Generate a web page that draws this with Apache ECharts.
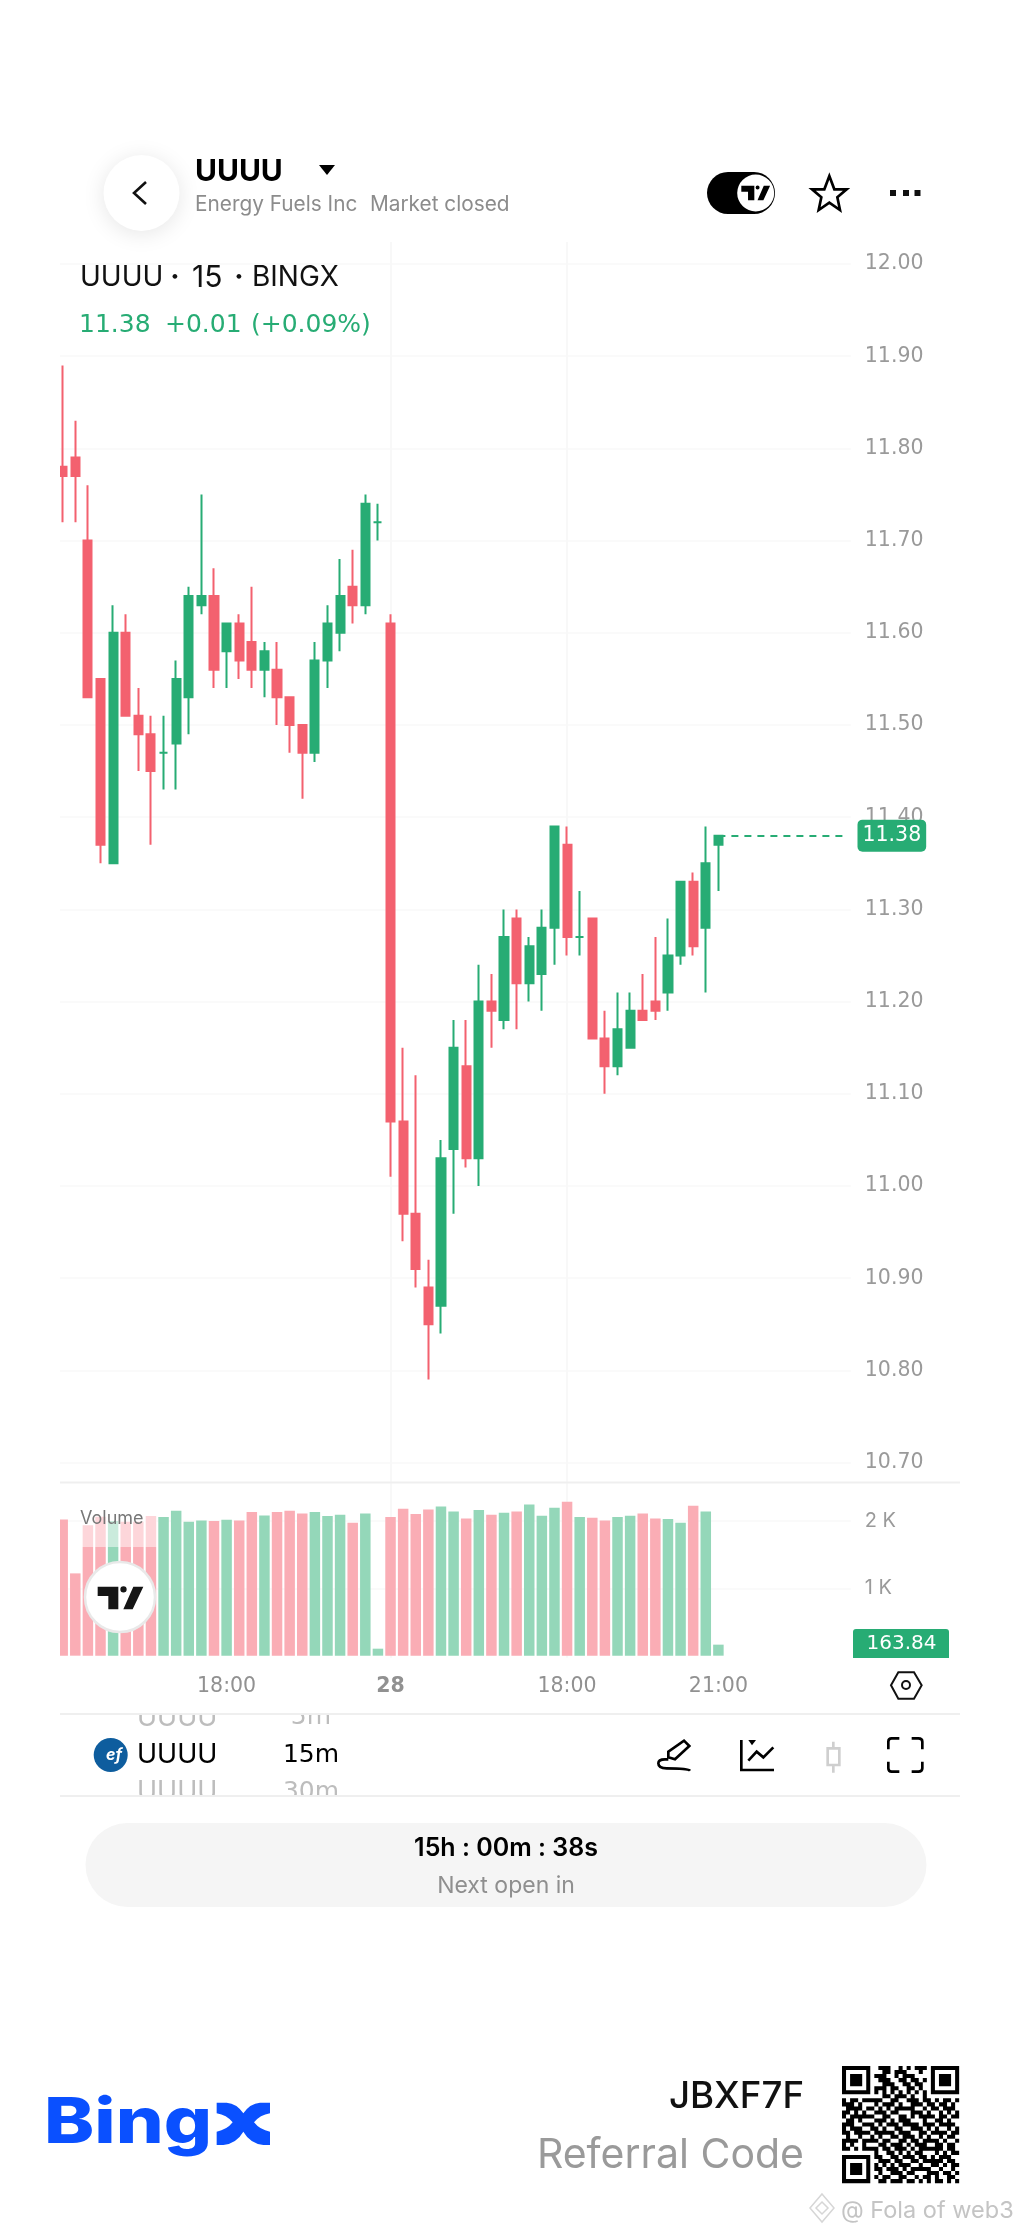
<!DOCTYPE html>
<html><head><meta charset="utf-8">
<style>html,body{margin:0;padding:0;background:#fff}#c{width:1020px;height:2235px}</style>
<script src="https://cdn.jsdelivr.net/npm/echarts@6/dist/echarts.min.js"></script>
</head><body><div id="c"></div>
<script>
// open, close, low, high
const opens  = [11.78,11.79,11.70,11.55,11.35,11.60,11.51,11.49,11.47,11.48,11.53,11.63,11.64,11.58,11.61,11.59,11.56,11.56,11.53,11.50,11.47,11.57,11.60,11.65,11.63,11.72,11.61,11.07,10.97,10.89,10.87,11.04,11.13,11.03,11.20,11.18,11.29,11.22,11.23,11.28,11.37,11.27,11.29,11.16,11.13,11.15,11.19,11.20,11.21,11.25,11.33,11.28,11.37];
const closes = [11.77,11.77,11.53,11.37,11.60,11.51,11.49,11.45,11.47,11.55,11.64,11.64,11.56,11.61,11.57,11.56,11.58,11.53,11.50,11.47,11.57,11.61,11.64,11.63,11.74,11.72,11.07,10.97,10.91,10.85,11.03,11.15,11.03,11.20,11.19,11.27,11.22,11.26,11.28,11.39,11.27,11.27,11.16,11.13,11.17,11.19,11.18,11.19,11.25,11.33,11.26,11.35,11.38];
const lows   = [11.72,11.72,11.53,11.35,11.35,11.51,11.45,11.37,11.43,11.43,11.49,11.62,11.54,11.54,11.55,11.54,11.53,11.50,11.47,11.42,11.46,11.54,11.58,11.61,11.62,11.70,11.01,10.94,10.89,10.79,10.84,10.97,11.02,11.00,11.15,11.17,11.17,11.20,11.19,11.24,11.25,11.25,11.16,11.10,11.12,11.15,11.18,11.18,11.19,11.24,11.25,11.21,11.32];
const highs  = [11.89,11.83,11.76,11.55,11.63,11.62,11.54,11.51,11.51,11.57,11.65,11.75,11.67,11.61,11.62,11.65,11.59,11.59,11.53,11.50,11.59,11.63,11.68,11.69,11.75,11.74,11.62,11.15,11.12,10.92,11.05,11.18,11.18,11.24,11.23,11.30,11.30,11.27,11.30,11.39,11.39,11.32,11.29,11.19,11.21,11.21,11.23,11.27,11.29,11.33,11.34,11.39,11.38];
const volumes = [2025,1223,1940,2064,2000,1990,1990,2074,2059,2153,1990,2010,2000,2020,2010,2134,2084,2134,2153,2114,2134,2074,2094,1975,2114,104,2059,2183,2104,2173,2218,2144,2040,2163,2094,2124,2144,2248,2079,2198,2287,2059,2050,2010,2059,2079,2114,2040,2030,1975,2228,2144,163.84];
const upFlags = [0,0,0,0,1,0,0,0,1,1,1,1,0,1,0,0,1,0,0,0,1,1,1,0,1,1,0,0,0,0,1,1,0,1,0,1,0,1,1,1,0,1,0,0,1,1,0,0,1,1,0,1,1];
const timeTickIndex = [13,26,40,52];
const timeTickLabel = ['18:00','28','18:00','21:00'];
const priceTicks = {min:10.7,max:12.0,step:0.1};
const volumeTicks = [1000,2000];
const lastPrice = 11.38, lastVolume = 163.84;
const slotCount = 63;

const GREEN='#27ac74', RED='#f3616f', PGREEN='#94d7b9', PRED='#faadb5', F='Inter, "Noto Sans", sans-serif', N='"DejaVu Sans", sans-serif';
const cats = Array.from({length:slotCount},(_,i)=>{const k=timeTickIndex.indexOf(i);return k>=0?timeTickLabel[k]:String(i)});
const gridL=56.37, gridW=63*12.61;

const candleData = opens.map((o,i)=>{
  const item={value:[o,closes[i],lows[i],highs[i]]};
  if(o===closes[i]) item.itemStyle={color:GREEN,color0:GREEN,borderColor:GREEN,borderColor0:GREEN};
  return item;
});
const volData = volumes.map((v,i)=>({value:v,itemStyle:{color:upFlags[i]?PGREEN:PRED}}));

const QR=[
"11111110011100101011101111111",
"10000010001101110001001000001",
"10111010111001011100001011101",
"10111010011100110110101011101",
"10111010001110011011001011101",
"10000010111011001101001000001",
"11111110101010101010101111111",
"00000000001101110100100000000",
"10110111110011001110110101101",
"11101000101110100111011011010",
"01111011010101111100101101110",
"11010100111011000111010010101",
"10111111001100110101111011011",
"01101000111010111000100110100",
"11100111010111011110111011110",
"10111001101001100111010100101",
"11011110111110111001101111011",
"01001001010011011101010010110",
"11110111101100110110111101001",
"10100100011011101011100110110",
"11010111101101110101111110110",
"00000000100110101011000101011",
"11111110110011011101101011100",
"10000010011101100110111110110",
"10111010101010111001001101011",
"10111010110111010111110010010",
"10111010010011101100011101101",
"10000010101100110010110100110",
"11111110011011101101010110101"];
let qrPath='';
QR.forEach((r,y)=>[...r].forEach((c,x)=>{if(c==='1')qrPath+=`M${x} ${y}h1v1h-1Z`;}));

const TV='M173 350L235 350L235 418L205 418L205 378L173 378ZM241 358a9.5 9.5 0 1 0 19 0a9.5 9.5 0 1 0 -19 0ZM310 350L278 418L250 418L280 350Z';
let shapeN=0;
const txt=(x,y,t,size,color,weight,align,extra,fam)=>Object.assign({type:'text',x,y,z:20,style:{text:t,font:`${weight||400} ${size}px ${fam||F}`,fill:color,textAlign:align||'left',textVerticalAlign:'middle'}},extra||{});
const rect=(x,y,w,h,fill,r,z,op)=>({type:'rect',z:z===undefined?15:z,shape:{x,y,width:w,height:h,r:r||0},style:{fill,opacity:op===undefined?1:op}});
const line=(x1,y1,x2,y2,c,w,z)=>({type:'line',z:z||16,shape:{x1,y1,x2,y2},style:{stroke:c,lineWidth:w||2}});
const path=(d,px,py,s,style,z)=>{
  const name='svgp'+(shapeN++);
  echarts.graphic.registerShape(name,echarts.graphic.extendPath(d,{}));
  return {type:name,z:z||20,x:px,y:py,scaleX:s,scaleY:s,style};
};

const graphic=[
 // clipped left edge of the plot
 rect(0,235,60,1430,'#fff',0,12),
 // legend veil over the first volume bars
 rect(82,1508,75,39,'#fff',0,10,0.5),
 txt(80,1519,'Volume',18,'#777'),
 {type:'circle',z:14,shape:{cx:120,cy:1597,r:35},style:{fill:'#fff',stroke:'#e9e9e9',lineWidth:2.5}},
 path(TV,40,1470,1/3,{fill:'#151515'}),
 // separators
 line(60,1482.5,960,1482.5,'#efefef',2),
 line(60,1714,960,1714,'#efefef',2,23),
 line(60,1796,960,1796,'#efefef',2,23),
 // volume last value
 path('M853 1658V1632a3 3 0 0 1 3 -3H946a3 3 0 0 1 3 3V1658Z',0,0,1,{fill:GREEN},15),
 txt(901.5,1644,String(lastVolume),20,'#fff',400,'center',null,N),
 // hexagon
 path('M1173 646L1195 607L1242 607L1265 646L1242 686L1195 686Z',500,1470,1/3,{fill:'none',stroke:'#111',lineWidth:6}),
 {type:'circle',z:20,shape:{cx:906,cy:1685,r:4},style:{fill:'#fff',stroke:'#111',lineWidth:2}},
 // header
 {type:'circle',z:18,shape:{cx:141.5,cy:193,r:38},style:{fill:'#fff',shadowBlur:22,shadowColor:'rgba(0,0,0,0.10)',shadowOffsetY:3}},
 path('M146 182L134 193L146 204',0,0,1,{fill:'none',stroke:'#111',lineWidth:2.6}),
 txt(195,172,'UUUU',30,'#000',700),
 path('M319 165H335L327 175Z',0,0,1,{fill:'#000'}),
 txt(195,205,'Energy Fuels Inc',20.8,'#8c8c8c'),
 txt(370,205,'Market closed',20.8,'#8c8c8c'),
 rect(707,172,68,42,'#000',21,18),
 {type:'circle',z:19,shape:{cx:755.7,cy:193,r:18.5},style:{fill:'#fff'}},
 path(TV,755.7-241.5*0.21,193-384*0.21,0.21,{fill:'#000'}),
 path('M418 48L433 88L470 88L442 112L450 150L418 128L386 150L394 112L366 88L403 88Z',690,160,1/3,{fill:'#fff',stroke:'#000',lineWidth:8}),
 rect(890,190,6,6,'#111',0,20),rect(903,190,6,6,'#111',0,20),rect(914.5,190,6,6,'#111',0,20),
 // legend
 txt(80,278,'UUUU',28,'#111'),
 txt(175,278,'·',28,'#111',700,'center'),
 txt(192,278,'15',30,'#111'),
 txt(239,278,'·',28,'#111',700,'center'),
 txt(252,278,'BINGX',28,'#111'),
 txt(79,325,'11.38',25,GREEN,400,'left',null,N),
 txt(165,325,'+0.01',25,GREEN,400,'left',null,N),
 txt(251,325,'(+0.09%)',25,GREEN,400,'left',null,N),
 // symbol + resolution picker
 txt(137,1717.5,'UUUU',27,'#bdbdbd'),txt(311,1717.5,'5m',25,'#bdbdbd',400,'center',null,N),
 txt(137,1792,'UUUU',27,'#bdbdbd'),txt(311,1792,'30m',25,'#bdbdbd',400,'center',null,N),
 rect(60,1697,330,17,'#fff',0,22),rect(60,1796,330,20,'#fff',0,22),
 {type:'circle',z:20,shape:{cx:110.7,cy:1755,r:17},style:{fill:'#0e5d9e'}},
 {type:'text',x:114,y:1755,z:21,style:{text:'ef',font:`italic 700 16px ${F}`,fill:'#fff',textAlign:'center',textVerticalAlign:'middle'}},
 txt(137,1755,'UUUU',27,'#000'),
 txt(311,1755,'15m',25,'#000',400,'center',null,N),
 // toolbar icons
 path('M505 862L505 845L552 812L568 828L525 868ZM570 902Q565 895 500 895Q475 895 475 880Q475 868 495 868L505 868',500,1470,1/3,{fill:'none',stroke:'#000',lineWidth:8}),
 path('M724 810L724 900L822 900M745 872L770 845L790 862L820 832',500,1470,1/3,{fill:'none',stroke:'#000',lineWidth:8}),
 path('M745 810L768 810L756 826Z',500,1470,1/3,{fill:'#000'}),
 path('M983 835H1018V885H983ZM1000 815V835M1000 885V908',500,1470,1/3,{fill:'none',stroke:'#cfcfcf',lineWidth:8}),
 path('M1165 838L1165 815Q1165 805 1175 805L1198 805M1235 805L1255 805Q1267 805 1267 815L1267 838M1267 875L1267 895Q1267 905 1255 905L1235 905M1198 905L1175 905Q1165 905 1165 895L1165 875',500,1470,1/3,{fill:'none',stroke:'#000',lineWidth:8}),
 // countdown
 rect(85.5,1823,841,84,'#f5f5f5',42,15),
 txt(506,1848,'15h : 00m : 38s',25,'#000',600,'center'),
 txt(506,1886,'Next open in',23,'#8f8f8f',400,'center'),
 // footer
 txt(44,2124,'Bing',63,'#0a50ff',800,'left',{scaleX:1.2,originX:0,originY:0}),
 path('M560 68L590 68Q620 70 640 100Q660 70 690 68L720 68L720 100Q690 105 672 127Q690 150 720 155L720 195L700 195Q660 190 640 155Q620 190 580 195L560 195L560 155Q590 150 608 127Q590 105 560 100Z',30,2080,1/3,{fill:'#0a50ff'}),
 txt(804,2097,'JBXF7F',36.7,'#111',500,'right'),
 txt(804,2156,'Referral Code',41,'#9a9a9a',400,'right'),
 path(qrPath,842,2066,4.04,{fill:'#000'}),
 path('M822 2194L834 2208L822 2222L810 2208ZM822 2202L828 2208L822 2214L816 2208Z',0,0,1,{fill:'none',stroke:'#d6d6d6',lineWidth:1.5}),
 txt(841,2211,'@ Fola of web3',23.5,'#c4c4c4')
];

const option={
 animation:false,
 backgroundColor:'#fff',
 textStyle:{fontFamily:F},
 graphic:{elements:graphic},
 grid:[
  {left:gridL,width:gridW,top:264,height:1198.6},
  {left:gridL,width:gridW,top:1483,height:174.7},
  {left:gridL+6.305,width:62*12.61,top:242,height:1415.7}
 ],
 xAxis:[
  {type:'category',gridIndex:0,data:cats,show:false},
  {type:'category',gridIndex:1,data:cats,show:false},
  {type:'category',gridIndex:2,data:cats,boundaryGap:false,
   axisLine:{show:false},axisTick:{show:false},
   splitLine:{show:true,showMinLine:false,showMaxLine:false,interval:(i)=>timeTickIndex.includes(i),lineStyle:{color:'#f8f8f8',width:2}},
   axisLabel:{interval:(i)=>timeTickIndex.includes(i),margin:18,fontSize:20.5,color:'#919191',fontFamily:N,
     formatter:(v,i)=>i===26?`{b|${v}}`:v,rich:{b:{fontSize:20.5,fontWeight:700,color:'#919191',fontFamily:N}}}}
 ],
 yAxis:[
  {type:'value',gridIndex:0,position:'right',min:priceTicks.min,max:priceTicks.max,interval:priceTicks.step,
   axisLine:{show:false},axisTick:{show:false},splitLine:{lineStyle:{color:'#f8f8f8',width:1.5}},
   axisLabel:{margin:14,fontSize:20.5,color:'#9a9a9a',fontFamily:N,padding:[3,0,0,0],formatter:v=>v.toFixed(2)}},
  {type:'value',gridIndex:1,position:'right',min:-30,max:2566,
   axisLine:{show:false},axisTick:{show:false,customValues:volumeTicks},splitLine:{lineStyle:{color:'#f8f8f8',width:1.5}},
   axisLabel:{margin:14,fontSize:20,color:'#9a9a9a',fontFamily:F,padding:[2,0,0,0],customValues:volumeTicks,formatter:v=>(v/1000)+' K'}},
  {type:'value',gridIndex:2,min:0,max:1,show:false}
 ],
 series:[
  {type:'candlestick',xAxisIndex:0,yAxisIndex:0,barWidth:8.6,clip:false,
   itemStyle:{color:GREEN,color0:RED,borderColor:GREEN,borderColor0:RED,borderWidth:2},
   data:candleData,
   markLine:{silent:true,symbol:'none',animation:false,precision:2,
     lineStyle:{color:GREEN,type:[7,6],width:2},
     label:{show:true,position:'end',distance:13,formatter:lastPrice.toFixed(2),color:'#fff',fontFamily:N,fontSize:20.5,
       backgroundColor:GREEN,borderRadius:5,padding:[6,5,5,5]},
     data:[[{coord:[52,lastPrice]},{coord:[62,lastPrice]}]]}},
  {type:'bar',xAxisIndex:1,yAxisIndex:1,barWidth:10.5,startValue:-30,data:volData}
 ]
};
const chart=echarts.init(document.getElementById('c'),null,{renderer:'canvas'});
chart.setOption(option);
</script></body></html>
